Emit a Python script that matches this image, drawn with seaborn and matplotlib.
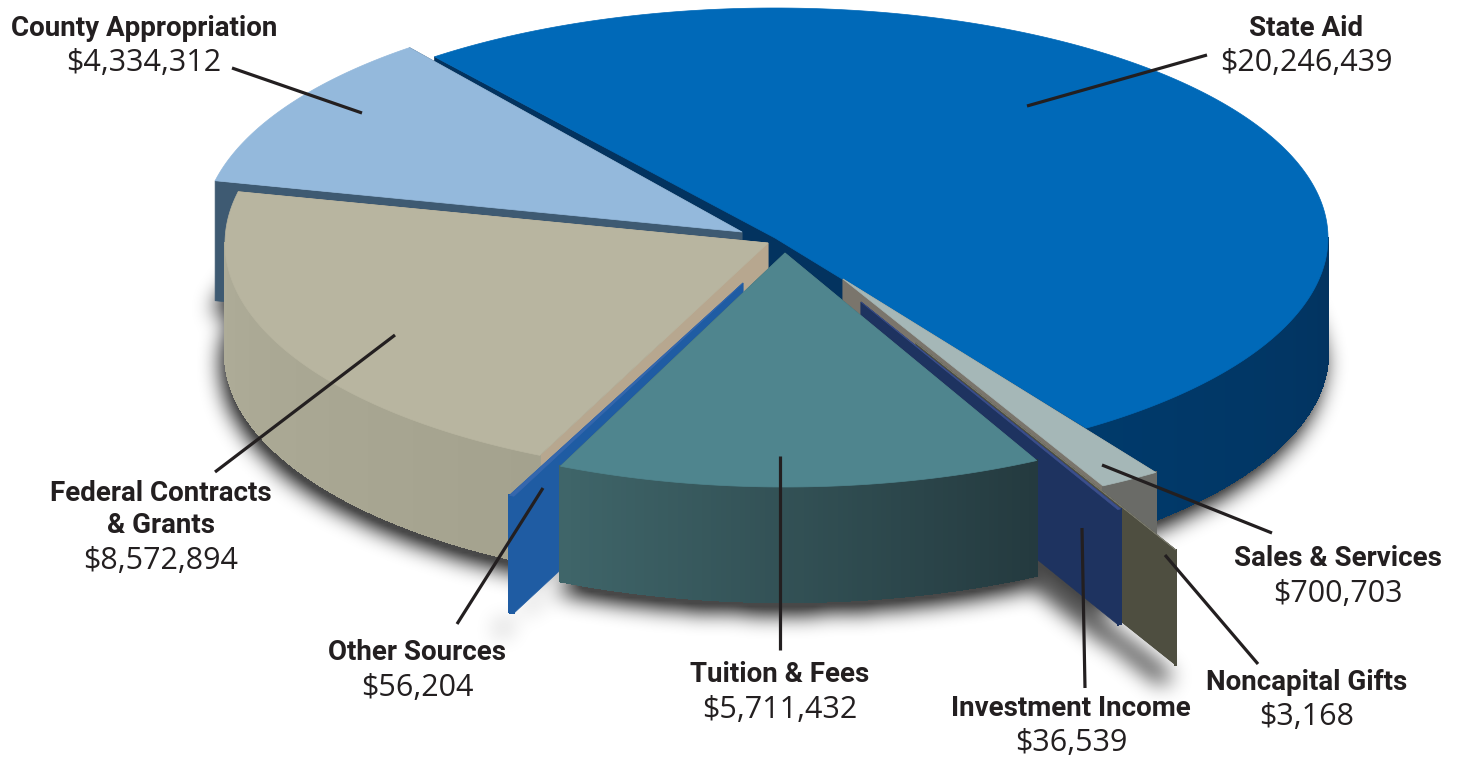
import numpy as np
import pandas as pd
import matplotlib
matplotlib.use('Agg')
import matplotlib.pyplot as plt
from matplotlib.collections import PolyCollection
from matplotlib.path import Path
import seaborn as sns

# values, clockwise from the upper left edge of State Aid
categories = ['State Aid', 'Sales & Services', 'Noncapital Gifts', 'Investment Income',
              'Tuition & Fees', 'Other Sources', 'Federal Contracts\n& Grants', 'County Appropriation']
amounts = [20246439, 700703, 3168, 36539, 5711432, 56204, 8572894, 4334312]

# how each slice is laid out on the page: apex x, apex y, radius x, radius y, depth
apex_x = [775, 843, 916, 861, 785, 743, 768, 742]
apex_y = [238, 279, 343, 302, 253, 283, 243, 232]
radius_x = [553, 556, 556, 556, 545, 556, 543, 540]
radius_y = [230, 234, 234, 234, 234, 234, 234, 234]
depth = [115, 112, 115, 115, 115, 117, 110, 120]

top_colors = ['#0069b8', '#a5b7b7', '#77776a', '#3c4f8c', '#4f858e', '#3567ad', '#b8b5a0', '#94b9dc']
# wall colour at the clockwise-first end of the arc and at its last end
side_colors = ['#03335f', '#6a6b67', '#4e4e40', '#1e3360', '#243a3f', '#1f5ca3', '#a4a28e', '#3e5a72']
edge_colors = ['#003a6b', '#6a6b67', '#4e4e40', '#1e3360', '#3f6569', '#1f5ca3', '#aeac98', '#3e5a72']
cut_colors = ['#03335f', '#7a756c', '#4e4e40', '#1e3360', '#3f6569', '#1f5ca3', '#b7a78f', '#3e5a72']
draw_order = [0, 7, 6, 1, 2, 3, 5, 4]

# label centres and leader lines
label_x = [1306, 1338, 1307, 1071, 780, 417, 161, 144]
label_y = [26, 557, 680, 706, 673, 651, 491, 26]
leader_from = [(1207, 55), (1272, 533), (1258, 664), (1085, 688), (780, 650), (457, 624), (215, 472), (232, 68)]
leader_to = [(1027, 106), (1102, 465), (1165, 555), (1082, 528), (780, 456), (543, 488), (395, 335), (362, 113)]

start_angle = 128
df = pd.DataFrame({'category': categories, 'amount': amounts})
df['sweep'] = df['amount'] / df['amount'].sum() * 360
df['end'] = start_angle - df['sweep'].cumsum()
df['start'] = df['end'] + df['sweep']

sns.set_theme(style='white')
plt.rcParams['font.family'] = ['Roboto', 'DejaVu Sans']
fig = plt.figure(figsize=(14.62, 7.58), dpi=100, facecolor='white')
ax = fig.add_axes([0, 0, 1, 1])
ax.set_xlim(0, 1462)
ax.set_ylim(758, 0)
sns.despine(ax=ax, left=True, bottom=True)
ax.set_xticks([])
ax.set_yticks([])


def arc(i, a0, a1, n=None):
    n = n or max(2, int(abs(a1 - a0)) * 2)
    t = np.radians(np.linspace(a0, a1, n))
    return np.column_stack([apex_x[i] + radius_x[i] * np.cos(t), apex_y[i] - radius_y[i] * np.sin(t)])


def wedge(i, shift=0):
    row = df.iloc[i]
    pts = np.vstack([[apex_x[i], apex_y[i]], arc(i, row['start'], row['end'])])
    return pts + [0, shift]


# soft shadow: blurred mask of the bottom faces
gx, gy = np.meshgrid(np.arange(0, 1462, 3) + 1.5, np.arange(0, 758, 3) + 1.5)
grid = np.column_stack([gx.ravel(), gy.ravel()])
mask = np.zeros(gx.shape)
for i in range(len(df)):
    pts = wedge(i, depth[i] + 12) + [-3, 0]
    if df.iloc[i]['sweep'] < 1:
        # thin cuts throw a shadow along their bottom edge
        pts = np.vstack([pts, pts[::-1] + [-10, 8]])
    mask = np.maximum(mask, Path(pts).contains_points(grid).reshape(gx.shape).astype(float))
kernel = np.ones(7) / 7
for _ in range(3):
    mask = np.apply_along_axis(lambda r: np.convolve(r, kernel, mode='same'), 0, mask)
    mask = np.apply_along_axis(lambda r: np.convolve(r, kernel, mode='same'), 1, mask)
shadow = np.zeros(mask.shape + (4,))
shadow[..., 3] = np.clip(mask * 1.0, 0, 0.72)
ax.imshow(shadow, extent=(0, 1462, 758, 0), interpolation='bilinear', aspect='auto', zorder=1)

# painter's order, back to front
z = 2
for i in draw_order:
    row = df.iloc[i]
    apex = np.array([apex_x[i], apex_y[i]])
    d = np.array([0, depth[i]])

    # the two radial cuts
    for ang in (row['start'], row['end']):
        p = arc(i, ang, ang, 2)[0]
        ax.fill(*np.array([apex, p, p + d, apex + d]).T, color=cut_colors[i], lw=0.5, zorder=z)

    # outer wall, front half only, shaded in strips
    a0 = min(row['start'], 0) if row['start'] > -180 else -180
    a1 = max(row['end'], -180)
    if row['end'] < 0 and a0 > a1:
        pts = arc(i, a0, a1, max(3, int(a0 - a1) * 2))
        quads = [np.array([pts[k], pts[k + 1], pts[k + 1] + d, pts[k] + d]) for k in range(len(pts) - 1)]
        shades = sns.blend_palette([side_colors[i], edge_colors[i]], len(quads))
        ax.add_collection(PolyCollection(quads, facecolors=shades, edgecolors=shades, linewidths=1,
                                         antialiaseds=False, zorder=z))

    # top face
    ax.fill(*wedge(i).T, color=top_colors[i], lw=0.5, zorder=z)
    z += 1

# leaders and labels
for a, b in zip(leader_from, leader_to):
    ax.plot([a[0], b[0]], [a[1], b[1]], color='#231f20', lw=2.3, solid_capstyle='butt', zorder=50)

for name, amount, x, y in zip(categories, amounts, label_x, label_y):
    n_lines = name.count('\n')
    ax.text(x, y + 2 + 16.5 * n_lines, name, ha='center', va='center', fontsize=20, fontweight='bold',
            color='#231f20', linespacing=1.22, zorder=60)
    ax.text(x, y + 37 + 33 * n_lines, f'${amount:,}', ha='center', va='center', fontsize=22,
            family=['Open Sans', 'DejaVu Sans'], color='#231f20', zorder=60)

fig.savefig('out.png', dpi=100)
